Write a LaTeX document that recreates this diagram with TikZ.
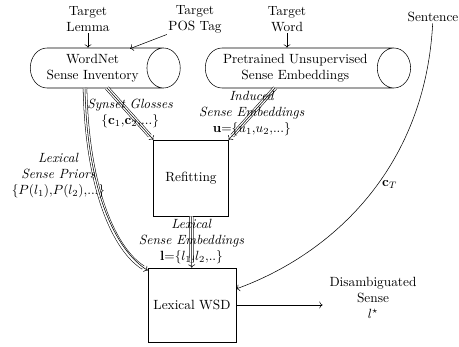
\documentclass[tikz,border=0pt]{standalone}
\usepackage{amsmath, amssymb}
\usetikzlibrary{arrows.meta, positioning, shapes.geometric}

\begin{document}
\begin{tikzpicture}[
            lbl/.style={align=center, inner sep=1pt},
            store/.style={draw, cylinder, align=center,
                    minimum width=30pt, inner sep=2pt, anchor=west},
            box/.style={draw, align=center},
            arr/.style={->, >=To},
            triple/.style={->, >=To, preaction={draw, -, double,
                    double distance=2.4pt, shorten >=4pt}}]
        \useasboundingbox (0pt,0pt) rectangle (344.25pt,-259.5pt);
        \node[lbl] (lemma) at (66pt,-14.25pt) {Target\\Lemma};
        \node[lbl] (postag) at (146.25pt,-14.25pt) {Target\\POS Tag};
        \node[lbl] (word) at (215.25pt,-14.25pt) {Target\\Word};
        \node[lbl] (sent) at (324.75pt,-12.75pt) {Sentence};
        \node[store, minimum height=112.5pt, inner xsep=0pt, text width=81pt] (wn) at (22.5pt,-51pt) {WordNet\\Sense Inventory};
        \node[store, minimum height=154pt] (pse) at (153.75pt,-51pt) {Pretrained Unsupervised\\Sense Embeddings};
        \node[box, minimum width=56pt, minimum height=57pt] (refit) at (143.25pt,-133.5pt) {Refitting};
        \node[box, minimum width=66pt, minimum height=55.5pt] (wsd) at (144pt,-228.75pt) {Lexical WSD};
        \node[lbl] (out) at (279.75pt,-223.5pt) {Disambiguated\\Sense\\$l^\star$};
        % inputs
        \draw[arr] (lemma) -- (lemma |- wn.north);
        \draw[arr] (postag.south west) -- ([shift={(75pt,14.5pt)}]wn.west);
        \draw[arr] (word) -- (word |- pse.north);
        % sense resources
        \draw[triple] ([shift={(57.75pt,-15pt)}]wn.west) -- node[lbl] {\textit{Synset Glosses}\\$\{\mathbf{c}_1{,}\mathbf{c}_2{,}...\}$} (refit.north west);
        \draw[triple] ([shift={(52.5pt,-15pt)}]pse.west) -- node[lbl] {\textit{Induced}\\\textit{Sense Embeddings}\\$\mathbf{u}{=}\{u_1{,}u_2{,}...\}$} (refit.north east);
        \draw[triple] (refit) -- node[lbl] {\textit{Lexical}\\\textit{Sense Embeddings}\\$\mathbf{l}{=}\{l_1{,}l_2{,}..\}$} (wsd);
        \draw[triple] ([shift={(41.25pt,-15pt)}]wn.west) .. controls (65.25pt,-142.5pt) and (86.25pt,-187.5pt) .. node[lbl, pos=0.33, anchor=east, xshift=9pt] {\textit{Lexical}\\\textit{Sense Priors}\\$\{P(l_1){,}P(l_2){,}...\}$} (wsd.142);
        % context and output
        \draw[arr] (sent) .. controls (318.75pt,-127.5pt) and (247.5pt,-191.25pt) .. node[pos=0.45, right] {$\mathbf{c}_T$} (wsd.20);
        \draw[arr, shorten >=4pt] (wsd) -- (wsd -| out.west);
    \end{tikzpicture}
\end{document}
